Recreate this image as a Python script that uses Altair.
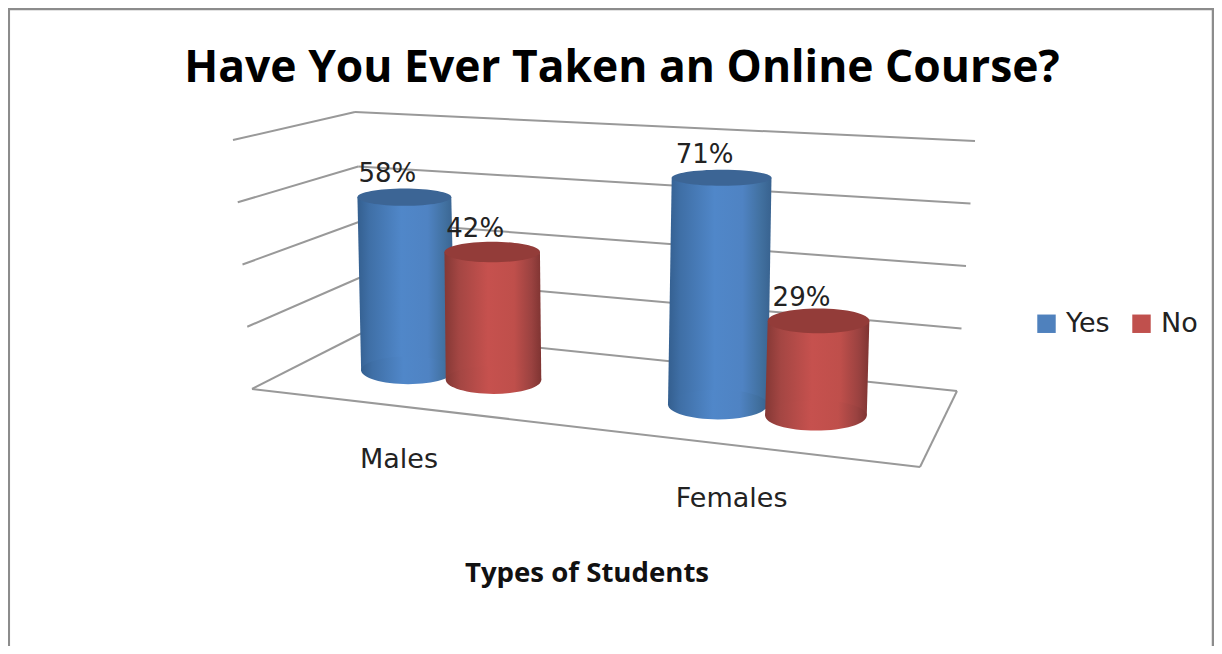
import altair as alt
import pandas as pd

# ---- values
categories = ["Males", "Females"]
series = ["Yes", "No"]
yes_values = [58, 71]
no_values = [42, 29]
axis_levels = [0, 20, 40, 60, 80]

W, H = 1206, 638
FONT = "DejaVu Sans"

# ---- 3-D projection of the floor quad / wall heights
FL, FR, BL, BR = (252, 389), (920, 467), (368, 330), (957, 391)
K = {"fl": 249 / 80, "fr": 285 / 80, "bl": 218 / 80, "br": 250 / 80}
DX = {"fl": -19 / 80, "fr": 25 / 80, "bl": -13 / 80, "br": 18 / 80}


def bil(a, b, c, d, u, v):
    return (a * (1 - u) + b * u) * (1 - v) + (c * (1 - u) + d * u) * v


def project(u, v, val, lean=1.0):
    x = bil(FL[0], FR[0], BL[0], BR[0], u, v)
    y = bil(FL[1], FR[1], BL[1], BR[1], u, v)
    k = bil(K["fl"], K["fr"], K["bl"], K["br"], u, v)
    d = bil(DX["fl"], DX["fr"], DX["bl"], DX["br"], u, v)
    return x + d * val * lean, y - k * val


# ---- grid
grid = []
for lv in axis_levels:
    a, b, c = project(0, 0, lv), project(0, 1, lv), project(1, 1, lv)
    grid.append(dict(x=a[0], y=a[1], x2=b[0], y2=b[1]))
    grid.append(dict(x=b[0], y=b[1], x2=c[0], y2=c[1]))
a, b, c = project(0, 0, 0), project(1, 0, 0), project(1, 1, 0)
grid.append(dict(x=a[0], y=a[1], x2=b[0], y2=b[1]))
grid.append(dict(x=b[0], y=b[1], x2=c[0], y2=c[1]))
grid = pd.DataFrame(grid)

# ---- cylinders
group_u = [0.224, 0.727]
half_gap = [0.068, 0.078]
label_u = [0.22, 0.718]
sign = {"Yes": -1, "No": 1}
vals = {"Yes": yes_values, "No": no_values}


def half_h(y):
    return 8 + 0.03 * (y - 177)


def ellipse(hw, y):
    a = half_h(y) / hw
    return f"M-1,0A1,{a:.3f},0,1,1,1,0A1,{a:.3f},0,1,1,-1,0Z"


rows, ends, labels = [], [], []
for s in series:
    for i, c in enumerate(categories):
        u = group_u[i] + sign[s] * half_gap[i]
        v = vals[s][i]
        hw = 46 + 6 * u
        x0, y0 = project(u, 0.5, 0)
        x1, y1 = project(u, 0.5, v, lean=0.5)
        rows.append(dict(series=s, cat=c, x=x0 - hw, x2=x0 + hw, y=y0))
        rows.append(dict(series=s, cat=c, x=x1 - hw, x2=x1 + hw, y=y1))
        ends.append(dict(series=s, cat=c, part="bottom", x=x0, y=y0,
                         size=(2 * hw) ** 2, path=ellipse(hw, y0)))
        ends.append(dict(series=s, cat=c, part="top", x=x1, y=y1,
                         size=(2 * hw) ** 2, path=ellipse(hw, y1)))
        labels.append(dict(text=f"{v}%", x=x1, y=y1))
rows, ends, labels = pd.DataFrame(rows), pd.DataFrame(ends), pd.DataFrame(labels)

cat_labels = pd.DataFrame([
    dict(text=c, x=project(label_u[i], 0, 0)[0], y=project(label_u[i], 0, 0)[1])
    for i, c in enumerate(categories)
])

# ---- shared position encodings (page-pixel scales)
xs = alt.Scale(domain=[8, 8 + W], range=[0, W], nice=False, zero=False)
ys = alt.Scale(domain=[8, 8 + H], range=[0, H], nice=False, zero=False)
X = alt.X("x:Q", scale=xs, axis=None, stack=None)
Y = alt.Y("y:Q", scale=ys, axis=None, stack=None)


def grad(stops):
    return alt.LinearGradient(
        gradient="linear", x1=0, x2=1, y1=0, y2=0,
        stops=[alt.GradientStop(offset=o, color=c) for o, c in stops],
    )


GRAD = {
    "Yes": grad([(0, "#345f8f"), (0.12, "#3f6fa6"), (0.45, "#5087c9"),
                 (0.72, "#4f83c3"), (0.9, "#41709f"), (1, "#38628f")]),
    "No": grad([(0, "#843835"), (0.15, "#a44643"), (0.45, "#c6514e"),
                (0.72, "#bf4f4b"), (0.9, "#9a4240"), (1, "#7f3432")]),
}
TOP = {"Yes": "#3c6595", "No": "#933c39"}
LEGEND = {"Yes": "#4f81bd", "No": "#c0504d"}

layers = []

# hidden carrier of the colour legend
layers.append(
    alt.Chart(ends[ends.part == "bottom"]).mark_square(size=1, opacity=1).encode(
        x=X, y=Y,
        color=alt.Color(
            "series:N",
            scale=alt.Scale(domain=series, range=[LEGEND[s] for s in series]),
            legend=alt.Legend(
                title=None, orient="none", direction="horizontal", columns=2,
                legendX=1025, legendY=302, symbolType="square", symbolSize=340,
                symbolOpacity=1, labelFont=FONT, labelFontSize=27,
                labelColor="#222222", labelOffset=6, columnPadding=18,
                padding=0, symbolStrokeWidth=0,
            ),
        ),
    )
)

# grid lines
layers.append(
    alt.Chart(grid).mark_rule(color="#999999", strokeWidth=2).encode(
        x=X, y=Y, x2="x2:Q", y2="y2:Q"
    )
)

# cylinders, Yes first so that No overlaps
for s in series:
    for c in categories:
        layers.append(
            alt.Chart(rows[(rows.series == s) & (rows.cat == c)])
            .mark_area(orient="horizontal", color=GRAD[s], opacity=1)
            .encode(x=X, x2="x2:Q", y=Y)
        )
        layers.append(
            alt.Chart(ends[(ends.series == s) & (ends.cat == c) & (ends.part == "bottom")])
            .mark_point(filled=True, fill=GRAD[s], opacity=1, strokeWidth=0)
            .encode(x=X, y=Y, size=alt.Size("size:Q", scale=None),
                    shape=alt.Shape("path:N", scale=None))
        )
        layers.append(
            alt.Chart(ends[(ends.series == s) & (ends.cat == c) & (ends.part == "top")])
            .mark_point(filled=True, fill=TOP[s], opacity=1, strokeWidth=0)
            .encode(x=X, y=Y, size=alt.Size("size:Q", scale=None),
                    shape=alt.Shape("path:N", scale=None))
        )

# value labels
layers.append(
    alt.Chart(labels).mark_text(font=FONT, fontSize=26, color="#222222", dx=-17, dy=-15,
                                baseline="alphabetic", align="center")
    .encode(x=X, y=Y, text="text:N")
)
# category labels
layers.append(
    alt.Chart(cat_labels).mark_text(font=FONT, fontSize=27, color="#222222", dy=62,
                                    baseline="alphabetic", align="center")
    .encode(x=X, y=Y, text="text:N")
)
# axis title
layers.append(
    alt.Chart(pd.DataFrame([dict(text="Types of Students", x=587, y=582)]))
    .mark_text(font="Open Sans", fontSize=27.6, fontWeight="bold", color="#111111",
               baseline="alphabetic", align="center")
    .encode(x=X, y=Y, text="text:N")
)
# chart frame
frame = pd.DataFrame([
    dict(x=8.8, x2=8.8, y=8, y2=8 + H),
    dict(x=1213, x2=1213, y=8, y2=8 + H),
    dict(x=8, x2=1214, y=9, y2=9),
])
layers.append(
    alt.Chart(frame).mark_rule(color="#8c8c8c", strokeWidth=2.5).encode(
        x=X, y=Y, x2="x2:Q", y2="y2:Q"
    )
)

chart = (
    alt.layer(*layers)
    .resolve_scale(color="shared")
    .properties(
        width=W, height=H,
        autosize=alt.AutoSizeParams(type="none"),
        padding=0,
        title=alt.TitleParams(
            "Have You Ever Taken an Online Course?",
            font="Open Sans", fontSize=44.4, fontWeight="bold", color="#000000",
            anchor="start", frame="group", orient="top",
            baseline="alphabetic", align="center", dx=614, dy=120, offset=0,
        ),
    )
    .configure_view(stroke=None)
    .configure(background="white")
)
chart.save("out.html", embed_options={"renderer": "svg", "actions": False})
